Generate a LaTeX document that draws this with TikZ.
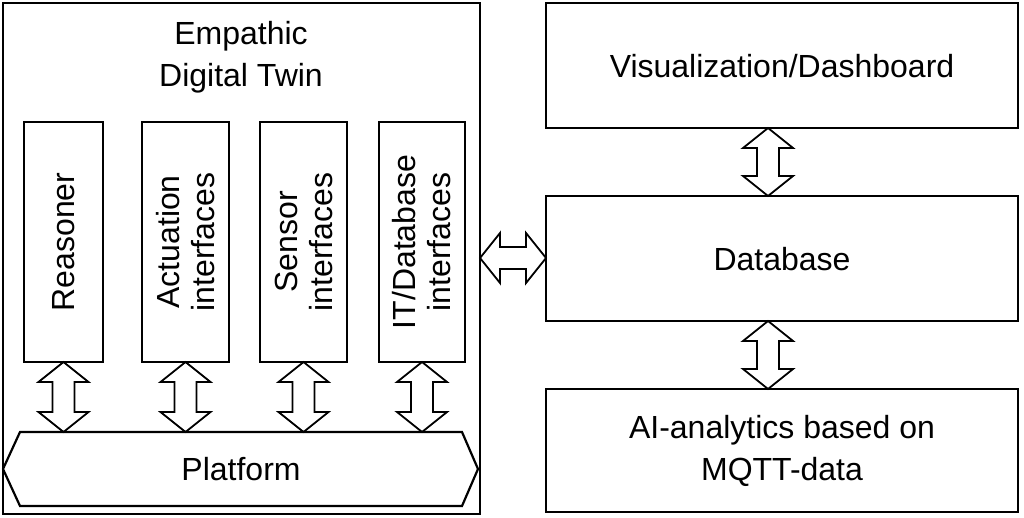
\documentclass[tikz,border=0pt]{standalone}
\usepackage{fontspec}
\setmainfont{Liberation Sans}
\begin{document}
\begin{tikzpicture}[x=1pt,y=-1pt,line width=2.2pt,
 txt/.style={font=\fontsize{32}{42}\selectfont,align=center},
 vtxt/.style={font=\fontsize{32}{35}\selectfont,align=center,rotate=90},
 darr/.pic={\draw[line width=1.8pt,fill=white] (0,-#1) -- (25,-#1+20) -- (11,-#1+20) -- (11,#1-20) -- (25,#1-20) -- (0,#1) -- (-25,#1-20) -- (-11,#1-20) -- (-11,-#1+20) -- (-25,-#1+20) -- cycle;}]
\useasboundingbox (0,0) rectangle (1024,518);
\draw (3,3) rectangle (480,514);
\node[txt] (title) at (241,57) {Empathic\\Digital Twin};
\foreach \n/\a/\b/\t in {r/24/103/{Reasoner},a/142/229/{Actuation\\interfaces},s/260/347/{Sensor\\interfaces},i/379/465/{IT/Database\\interfaces}}{
 \draw (\a,122) rectangle (\b,362);
 \node[vtxt] (\n) at ({(\a+\b)/2},242) {\t};
 \pic at ({(\a+\b)/2},397) {darr=35};
}
\draw (3,469) -- (20,432) -- (462,432) -- (478,469) -- (462,506) -- (20,506) -- cycle;
\node[txt] (plat) at (241,469) {Platform};
\draw (546,3) rectangle (1018,128);
\node[txt] (vis) at (782,66) {Visualization/Dashboard};
\draw (546,196) rectangle (1018,321);
\node[txt] (db) at (782,259) {Database};
\draw (546,389) rectangle (1018,512);
\node[txt] (ai) at (782,451) {AI-analytics based on\\MQTT-data};
\pic at (768,162) {darr=34};
\pic at (768,355) {darr=34};
\pic[rotate=90] at (513,258) {darr=33};
\end{tikzpicture}
\end{document}
